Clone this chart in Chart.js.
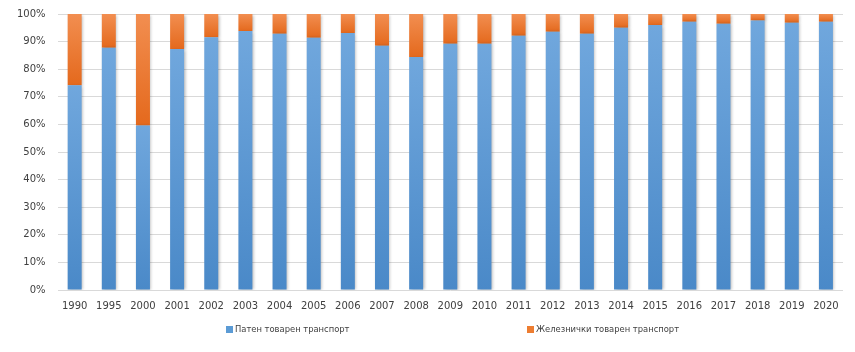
<!DOCTYPE html>
<html>
<head>
<meta charset="utf-8">
<script src="https://cdn.jsdelivr.net/npm/chart.js@4/dist/chart.umd.min.js"></script>
<style>
  html, body { margin: 0; padding: 0; background: #fff; }
  #wrap { width: 855px; height: 352px; }
</style>
</head>
<body>
<div id="wrap"><canvas id="chart"></canvas></div>
<script>
// Chart data
var years = ['1990', '1995', '2000', '2001', '2002', '2003', '2004', '2005', '2006', '2007', '2008', '2009',
    '2010', '2011', '2012', '2013', '2014', '2015', '2016', '2017', '2018', '2019', '2020'];
var roadShare = [74.2, 87.8, 59.6, 87.3, 91.6, 93.8, 92.8, 91.4, 93.1, 88.5, 84.4, 89.2,
    89.2, 92.1, 93.6, 92.8, 95.0, 96.0, 97.2, 96.5, 97.6, 96.8, 97.2];
var railShare = [25.8, 12.2, 40.4, 12.7, 8.4, 6.2, 7.2, 8.6, 6.9, 11.5, 15.6, 10.8,
    10.8, 7.9, 6.4, 7.2, 5.0, 4.0, 2.8, 3.5, 2.4, 3.2, 2.8];
var seriesNames = ['Патен товарен транспорт', 'Железнички товарен транспорт'];
var yTicks = [0, 10, 20, 30, 40, 50, 60, 70, 80, 90, 100];

var blue = '#5b9bd5';
var orange = '#ed7d31';

// vertical gradient per bar segment, lighter on top
function segmentFill(light, dark, flat) {
    return function (context) {
        var chart = context.chart;
        var y = chart.scales.y;
        if (!chart.chartArea || !y || context.dataIndex === undefined) return flat;
        var i = context.dataIndex;
        var bottom, top;
        if (context.datasetIndex === 0) {
            bottom = 0;
            top = roadShare[i];
        } else {
            bottom = roadShare[i];
            top = roadShare[i] + railShare[i];
        }
        var y0 = y.getPixelForValue(top);
        var y1 = y.getPixelForValue(bottom);
        if (!isFinite(y0) || !isFinite(y1) || y0 === y1) return flat;
        var g = chart.ctx.createLinearGradient(0, y0, 0, y1);
        g.addColorStop(0, light);
        g.addColorStop(1, dark);
        return g;
    };
}

var barShadow = {
    id: 'barShadow',
    beforeDatasetsDraw: function (chart) {
        var ctx = chart.ctx;
        ctx.save();
        ctx.shadowColor = 'rgba(0,0,0,0.28)';
        ctx.shadowBlur = 3;
        ctx.shadowOffsetX = 1.5;
        ctx.shadowOffsetY = 0.5;
    },
    afterDatasetsDraw: function (chart) {
        chart.ctx.restore();
    }
};

// legend drawn under the axis, items spread apart like the original
var spreadLegend = {
    id: 'spreadLegend',
    afterDraw: function (chart) {
        var ctx = chart.ctx;
        var starts = [0.264, 0.616];
        var cy = chart.chartArea.bottom + 39.5;
        ctx.save();
        ctx.font = '8.4px "DejaVu Sans"';
        ctx.textBaseline = 'middle';
        chart.data.datasets.forEach(function (ds, i) {
            var x = Math.round(chart.width * starts[i]);
            ctx.fillStyle = ds.legendColor;
            ctx.fillRect(x, cy - 3.5, 7, 7);
            ctx.fillStyle = '#404040';
            ctx.fillText(ds.label, x + 9, cy);
        });
        ctx.restore();
    }
};

new Chart(document.getElementById('chart'), {
    type: 'bar',
    data: {
        labels: years,
        datasets: [{
            label: seriesNames[0],
            data: roadShare,
            legendColor: blue,
            backgroundColor: segmentFill('#70a7dd', '#4a89c8', blue),
            barPercentage: 0.41,
            categoryPercentage: 1
        }, {
            label: seriesNames[1],
            data: railShare,
            legendColor: orange,
            backgroundColor: segmentFill('#f28e50', '#e4691d', orange),
            barPercentage: 0.41,
            categoryPercentage: 1
        }]
    },
    options: {
        responsive: true,
        maintainAspectRatio: false,
        animation: false,
        layout: {
            padding: { left: 5, right: 12, top: 14, bottom: 30 }
        },
        plugins: {
            legend: { display: false },
            tooltip: { enabled: false }
        },
        scales: {
            x: {
                stacked: true,
                grid: { display: false, drawTicks: false },
                border: { display: false },
                ticks: {
                    color: '#404040',
                    font: { family: 'DejaVu Sans', size: 10 },
                    padding: 10,
                    maxRotation: 0,
                    autoSkip: false
                }
            },
            y: {
                stacked: true,
                min: 0,
                max: 100,
                afterBuildTicks: function (axis) {
                    axis.ticks = yTicks.map(function (v) { return { value: v }; });
                },
                afterFit: function (axis) {
                    axis.paddingTop = 0;
                },
                grid: { color: '#d9d9d9', lineWidth: 1, drawTicks: false },
                border: { display: false },
                ticks: {
                    color: '#404040',
                    font: { family: 'DejaVu Sans', size: 10 },
                    padding: 12,
                    callback: function (v) { return v + '%'; }
                }
            }
        }
    },
    plugins: [barShadow, spreadLegend]
});
</script>
</body>
</html>
